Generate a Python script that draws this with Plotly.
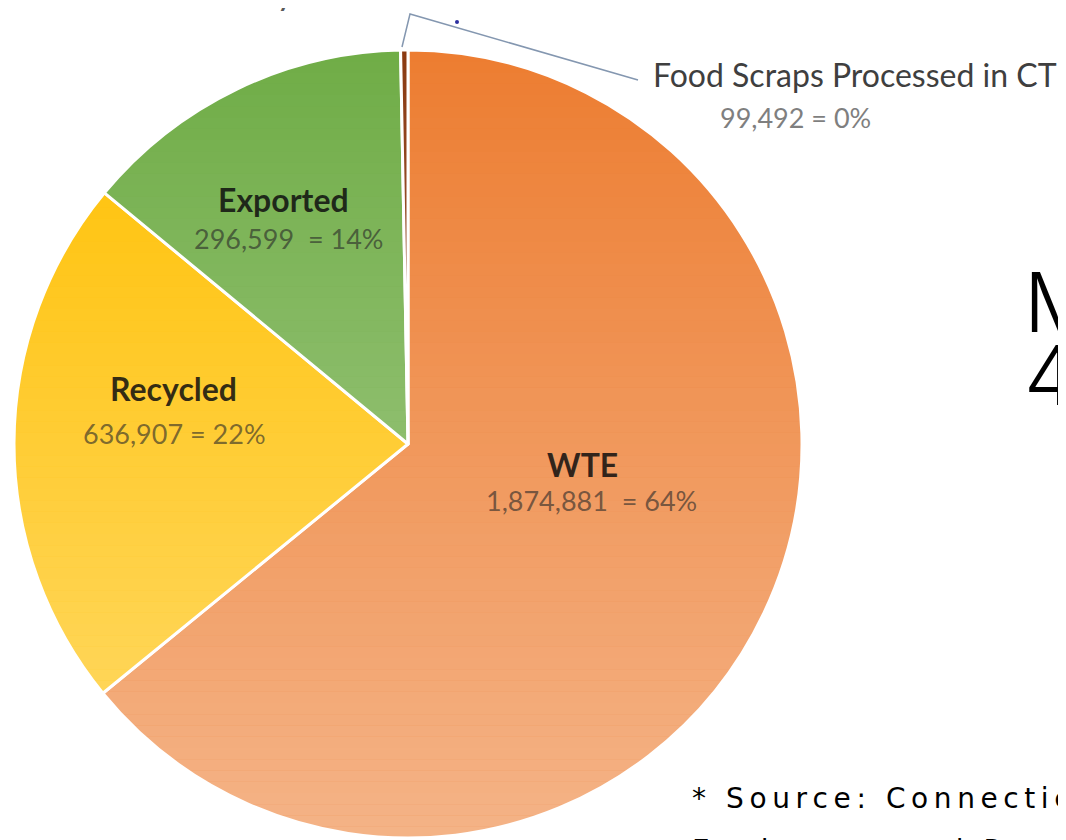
import plotly.graph_objects as go

W, H = 1066, 840
OFF = 8  # page body margin in the browser

# ---- data ----
categories = ["WTE", "Recycled", "Exported", "Food Scraps Processed in CT"]
tons_text = ["1,874,881", "636,907", "296,599", "99,492"]
pct_text = ["64%", "22%", "14%", "0%"]
share_pct = [64.1, 21.9, 13.7, 0.3]          # slice sizes as drawn (percent of circle)
title_text = "by Final Destination"
side_lines = ["M", "4"]
source_lines = ["* Source: Connecticut", "Environmental Protection"]

slice_colors = ["#ED7D31", "#FFC000", "#70AD47", "#8B3A12"]


def spaced(s, gap="\u2009"):
    return gap.join(list(s))


def px(x):
    return (x - OFF) / W


def py(y):
    return 1 - (y - OFF) / H


fig = go.Figure()

cx, cy, r = 408, 444, 394
fig.add_trace(go.Pie(
    labels=categories,
    values=share_pct,
    sort=False,
    direction="clockwise",
    rotation=0,
    marker=dict(colors=slice_colors, line=dict(color="white", width=3)),
    textinfo="none",
    hoverinfo="skip",
    showlegend=False,
    domain=dict(x=[px(cx - r), px(cx + r)], y=[py(cy + r), py(cy - r)]),
))

shapes = []
# vertical light gradient over the pie (white veil growing toward the bottom)
N = 70
top, bot = cy - r, cy + r
for i in range(N):
    y0 = top + (bot - top) * i / N
    y1 = top + (bot - top) * (i + 1) / N
    a = 0.42 * (i + 0.5) / N
    shapes.append(dict(type="rect", xref="paper", yref="paper", layer="above",
                       x0=px(cx - r - 2), x1=px(cx + r + 2), y0=py(y1), y1=py(y0),
                       fillcolor="white", opacity=a, line=dict(width=0)))

# leader line for the tiny food-scraps slice
path = "M {} {} L {} {} L {} {}".format(px(402), py(47), px(410), py(14), px(638), py(80))
shapes.append(dict(type="path", xref="paper", yref="paper", path=path, layer="above",
                   line=dict(color="#8497B0", width=1.5)))
shapes.append(dict(type="circle", xref="paper", yref="paper", layer="above",
                   x0=px(455), x1=px(459), y0=py(24), y1=py(20),
                   fillcolor="#2B2FA0", line=dict(width=0)))

annotations = []


def ann(x, y, text, size, color, family="Lato", weight="normal", xanchor="center", yanchor="middle"):
    annotations.append(dict(x=px(x), y=py(y), xref="paper", yref="paper", text=text,
                            showarrow=False, xanchor=xanchor, yanchor=yanchor,
                            font=dict(family=family, size=size, color=color, weight=weight)))


NAME_SIZE = 32
VAL_SIZE = 27
name_col = "rgba(15,15,15,0.85)"
val_col = "rgba(40,40,40,0.62)"
seps = ["\u00a0 = ", " = ", "\u00a0 = ", " = "]

# inner labels
ann(582, 465, "<b>%s</b>" % categories[0], NAME_SIZE, name_col)
ann(591, 500, tons_text[0] + seps[0] + pct_text[0], VAL_SIZE, val_col)
ann(173, 389, "<b>%s</b>" % categories[1], NAME_SIZE, name_col)
ann(174, 433, tons_text[1] + seps[1] + pct_text[1], VAL_SIZE, val_col)
ann(283, 200, "<b>%s</b>" % categories[2], NAME_SIZE, name_col)
ann(288, 238, tons_text[2] + seps[2] + pct_text[2], VAL_SIZE, val_col)
# outside label for food scraps
ann(855, 75, categories[3], NAME_SIZE, "#3F3F3F")
ann(795, 118, tons_text[3] + seps[3] + pct_text[3], VAL_SIZE, "#7F7F7F")

# cut-off chart title
ann(410, -9, title_text, 35, "#595959")

# cut-off slide text on the right and bottom
ann(1022, 302, side_lines[0], 82, "#000000", family="Inter", weight=300, xanchor="left")
ann(1022, 375, side_lines[1], 82, "#000000", family="Inter", weight=300, xanchor="left")
ann(690, 798, spaced(source_lines[0]), 28, "#000000", family="DejaVu Sans", xanchor="left")
ann(690, 850, spaced(source_lines[1]), 28, "#000000", family="DejaVu Sans", xanchor="left")

fig.update_layout(
    width=W, height=H,
    margin=dict(l=0, r=0, t=0, b=0),
    paper_bgcolor="white", plot_bgcolor="white",
    shapes=shapes, annotations=annotations,
)

fig.write_html("out.html")
